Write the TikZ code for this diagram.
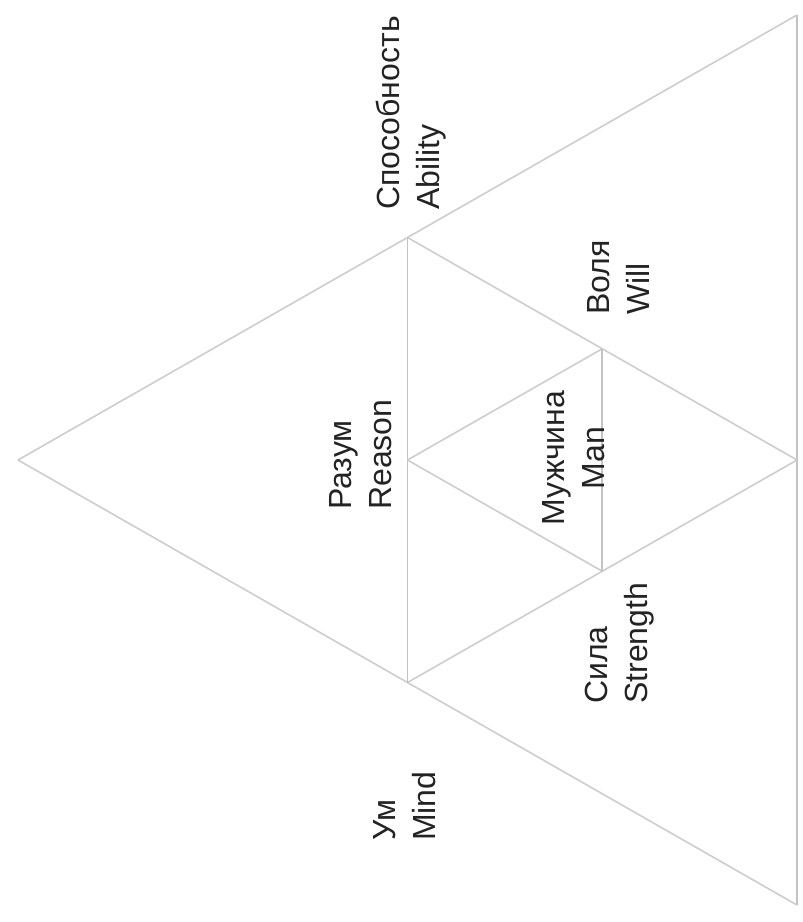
\documentclass[tikz,border=0pt]{standalone}
\usepackage{fontspec}
\usetikzlibrary{calc}
\setmainfont{Liberation Sans}
\definecolor{edgegray}{RGB}{205,205,205}
\definecolor{vertgray}{RGB}{195,195,195}
\definecolor{txt}{RGB}{35,35,35}
\tikzset{
  edge/.style={draw=edgegray, line width=1.6pt},
  vedge/.style={draw=vertgray, line width=1.8pt},
  lbl/.style={rotate=90, inner sep=0pt, text=txt, font=\fontsize{32}{40}\selectfont},
}
\begin{document}
\begin{tikzpicture}[x=1pt,y=-1pt]
\useasboundingbox (0,0) rectangle (803,922);
% outer triangle
\coordinate (A) at (18,460);
\coordinate (B) at (797,15);
\coordinate (C) at (797,905);
% midpoints
\coordinate (ab) at ($(A)!0.5!(B)$);
\coordinate (ac) at ($(A)!0.5!(C)$);
\coordinate (bc) at ($(B)!0.5!(C)$);
% inner triangle
\coordinate (rs) at ($(ab)!0.5!(ac)$);
\coordinate (wl) at ($(ab)!0.5!(bc)$);
\coordinate (st) at ($(ac)!0.5!(bc)$);

\draw[edge] (A) -- (B);
\draw[edge] (A) -- (C);
\draw[vedge] (B) -- (C);
\draw[edge] (ab) -- (bc);
\draw[edge] (ac) -- (bc);
\draw[vedge] (ab) -- (ac);
\draw[edge] (rs) -- (wl);
\draw[edge] (rs) -- (st);
\draw[vedge] (wl) -- (st);

\node[lbl, anchor=west, align=left] (ability) at (411,210) {Способность\\Ability};
\node[lbl, anchor=west, align=left] (will) at (618,315) {Воля\\Will};
\node[lbl, anchor=west, align=left] (reason) at (361,510) {Разум\\Reason};
\node[lbl, anchor=center, align=center] (man) at (574,458) {Мужчина\\Man};
\node[lbl, anchor=west, align=left] (strength) at (620,704) {Сила\\Strength};
\node[lbl, anchor=west, align=left] (mind) at (405,841) {Ум\\Mind};
\end{tikzpicture}
\end{document}
